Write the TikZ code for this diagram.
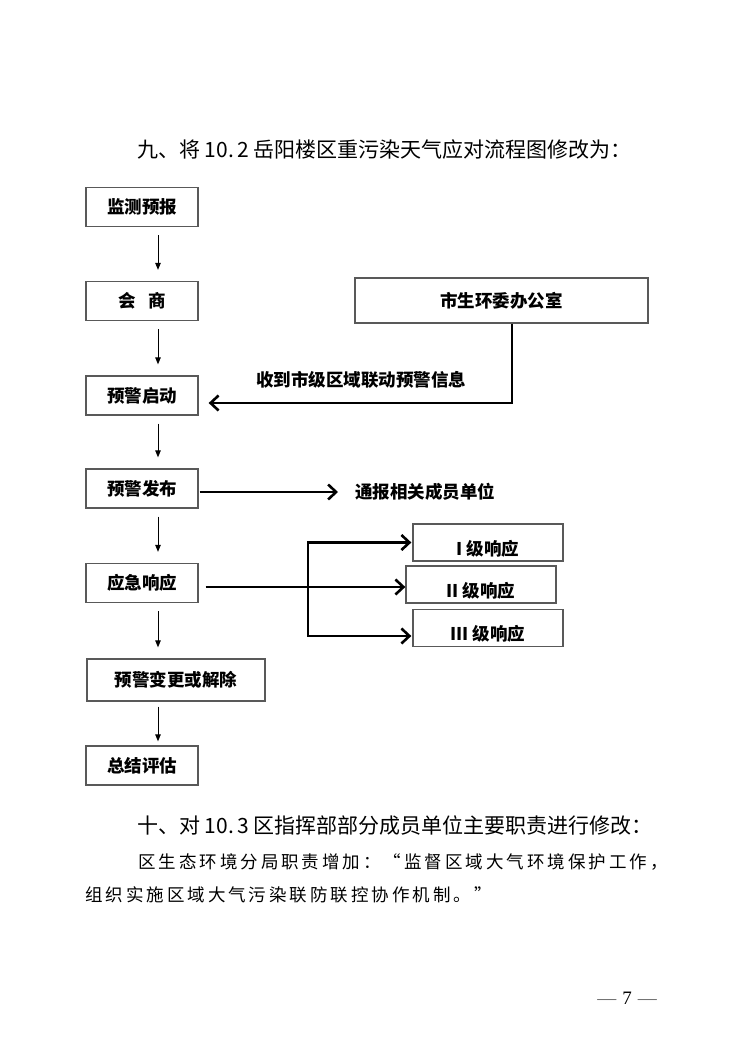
\documentclass[tikz,border=0pt]{standalone}
\usepackage{fontspec}
\setmainfont{Noto Sans CJK SC}
\newfontfamily\bodyfont[LetterSpace=17]{Noto Sans CJK SC}
\newfontfamily\pagefont{Liberation Serif}
\usetikzlibrary{arrows.meta}
\tikzset{
    base/.style={draw=black!65, line width=1.3pt, rectangle, minimum width=112pt, minimum height=39pt, inner sep=2pt, align=center, font=\fontsize{17.5}{20}\selectfont\bfseries},
    level/.style={base, minimum width=150pt, minimum height=37pt, text height=25pt, text depth=0pt},
    caption/.style={inner sep=0pt, font=\fontsize{17.5}{20}\selectfont\bfseries},
    plain/.style={inner sep=0pt, anchor=west},
    arrow/.style={-{Triangle[length=7pt,width=5.5pt]}, line width=0.9pt, shorten <=8pt, shorten >=11pt},
    bigarrow/.style={-{Straight Barb[length=8pt,width=15pt]}, line width=2.6pt},
    link/.style={line width=2.6pt}
}

\begin{document}
\begin{tikzpicture}[x=1pt, y=-1pt]
\useasboundingbox (0,0) rectangle (750,1061);
\node[plain, font=\fontsize{21}{24}\selectfont] (title9) at (137,150) {九、将 10.\,2 岳阳楼区重污染天气应对流程图修改为：};

\node[base] (jcyb) at (142,207) {监测预报};
\node[base] (hs) at (142,301) {会\hspace{13pt}商};
\node[base] (qd) at (142,395.5) {预警启动};
\node[base] (fb) at (142,488.5) {预警发布};
\node[base] (xy) at (142,583) {应急响应};
\node[base, minimum width=178pt, minimum height=42pt] (bg) at (176,680) {预警变更或解除};
\node[base] (pg) at (142,765.5) {总结评估};
\node[base, minimum width=293pt, minimum height=45pt] (swh) at (501.5,300.5) {市生环委办公室};
\node[level] (r1) at (488,542.5) {I 级响应};
\node[level] (r2) at (481,584.5) {II 级响应};
\node[level] (r3) at (488,628) {III 级响应};
\node[caption] (recv) at (361,380) {收到市级区域联动预警信息};
\node[caption, anchor=west] (tb) at (355,492) {通报相关成员单位};

\coordinate (axis) at (158,0);
\foreach \a/\b in {jcyb/hs, hs/qd, qd/fb, fb/xy, xy/bg}
    \draw[arrow] (\a.south -| axis) -- (\b.north -| axis);
\draw[arrow, shorten <=5pt, shorten >=4pt] (bg.south -| axis) -- (pg.north -| axis);

\coordinate (corner) at (512,403);
\draw[bigarrow, shorten >=10pt] (swh.south -| corner) -- (corner) -- (corner -| qd.east);
\draw[bigarrow, shorten <=1pt, shorten >=17pt] (fb.east |- tb) -- (tb.west);

\coordinate (fork) at (308,587);
\coordinate (low) at (308,636);
\draw[link, shorten <=7pt] (xy.east |- fork) -- (fork);
\draw[bigarrow, shorten >=1pt] (fork) |- (r1.west);
\draw[bigarrow] (fork) -- (fork -| r2.west);
\draw[bigarrow, shorten >=1pt] (fork) -- (low) -- (low -| r3.west);

\node[plain, font=\fontsize{21}{24}\selectfont] (title10) at (137,826) {十、对 10.\,3 区指挥部部分成员单位主要职责进行修改：};
\node[plain, font=\bodyfont\fontsize{17.5}{20}\selectfont] (duty1) at (138,862) {区生态环境分局职责增加：“监督区域大气环境保护工作，};
\node[plain, font=\bodyfont\fontsize{17.5}{20}\selectfont] (duty2) at (85,895) {组织实施区域大气污染联防联控协作机制。”};
\node[font=\pagefont\fontsize{19}{22}\selectfont] (page) at (627,998) {{\color{black!60}—}\hspace{6pt}7\hspace{6pt}{\color{black!60}—}};
\end{tikzpicture}
\end{document}
